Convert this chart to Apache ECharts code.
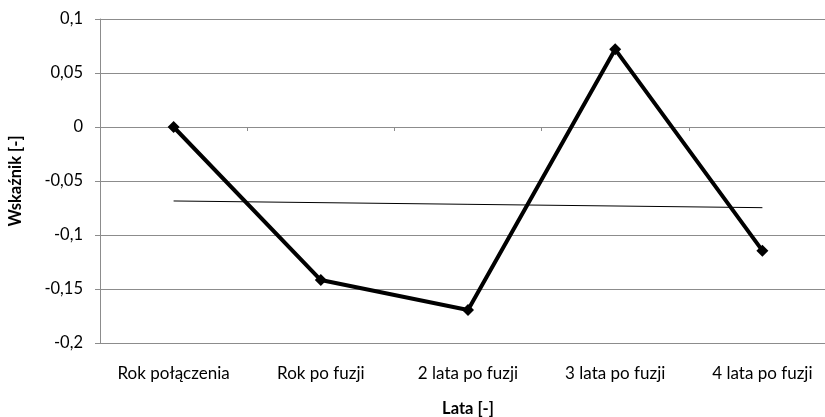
<!DOCTYPE html>
<html><head><meta charset="utf-8">
<script src="https://cdn.jsdelivr.net/npm/echarts@6/dist/echarts.min.js"></script>
<style>html,body{margin:0;padding:0;background:#fff;overflow:hidden}#c{width:850px;height:417px}</style>
</head><body><div id="c"></div>
<script>
const categories = ['Rok połączenia', 'Rok po fuzji', '2 lata po fuzji', '3 lata po fuzji', '4 lata po fuzji'];
const values = [0, -0.1417, -0.1694, 0.0719, -0.1145];
const trend = [-0.0685, null, null, null, -0.0747];
const yMin = -0.2, yMax = 0.1, yStep = 0.05;
const xTitle = 'Lata [-]';
const yTitle = 'Wskaźnik [-]';

const FONT = 'Lato';
const grid = '#8c8c8c';
const chart = echarts.init(document.getElementById('c'));
chart.setOption({
  animation: false,
  textStyle: { fontFamily: FONT },
  grid: { left: 100, right: 14, top: 19, bottom: 74, outerBoundsMode: 'none', containLabel: false },
  xAxis: [
    { type: 'category', data: categories, boundaryGap: true,
      axisLine: { onZero: true, lineStyle: { color: grid, width: 1 } },
      axisTick: { show: true, length: 4, lineStyle: { color: grid } },
      axisLabel: { show: false }, splitLine: { show: false } },
    { type: 'category', data: categories, boundaryGap: true, position: 'bottom',
      axisLine: { show: false, onZero: false }, axisTick: { show: false },
      axisLabel: { show: true, margin: 22, fontSize: 17, color: '#000', fontFamily: FONT },
      name: xTitle, nameLocation: 'middle', nameGap: 57,
      nameTextStyle: { fontWeight: 'bold', fontSize: 16.5, color: '#000', fontFamily: FONT } }
  ],
  yAxis: {
    type: 'value', min: yMin, max: yMax, interval: yStep,
    axisLine: { show: true, lineStyle: { color: grid } },
    axisTick: { show: true, length: 5, lineStyle: { color: grid } },
    splitLine: { show: true, lineStyle: { color: grid, width: 1 } },
    axisLabel: { margin: 17, fontSize: 16.5, color: '#000', fontFamily: FONT,
      formatter: v => String(+v.toFixed(2)).replace('.', ',') },
    name: yTitle, nameLocation: 'middle', nameGap: 76, nameRotate: 90,
    nameTextStyle: { fontWeight: 'bold', fontSize: 16.5, color: '#000', fontFamily: FONT }
  },
  series: [
    { type: 'line', data: values, xAxisIndex: 0, symbol: 'diamond', symbolSize: 12,
      lineStyle: { color: '#000', width: 4 }, itemStyle: { color: '#000' }, z: 3 },
    { type: 'line', data: trend, xAxisIndex: 0, connectNulls: true, symbol: 'none',
      lineStyle: { color: '#000', width: 1 }, z: 2 }
  ]
});
</script></body></html>
